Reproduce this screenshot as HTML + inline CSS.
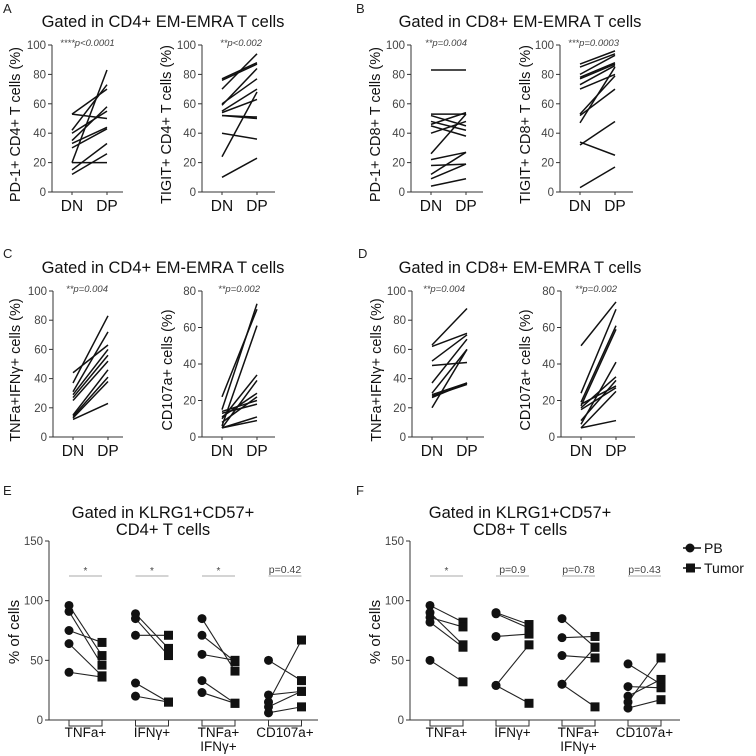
<!DOCTYPE html>
<html><head><meta charset="utf-8">
<style>
body{margin:0;background:#fff;}
svg{display:block;font-family:"Liberation Sans",Arial,sans-serif;}
</style></head>
<body>
<svg id="fig" width="756" height="756" viewBox="0 0 756 756" xmlns="http://www.w3.org/2000/svg">
<g font-size="13" fill="#222">
<text x="3" y="13">A</text>
<text x="356" y="13">B</text>
<text x="3" y="258">C</text>
<text x="358" y="258">D</text>
<text x="3" y="495">E</text>
<text x="356" y="495">F</text>
</g>
<g font-size="16.5" fill="#111" text-anchor="middle">
<text x="163" y="27">Gated in CD4+ EM-EMRA T cells</text>
<text x="520" y="27">Gated in CD8+ EM-EMRA T cells</text>
<text x="163" y="273">Gated in CD4+ EM-EMRA T cells</text>
<text x="520" y="273">Gated in CD8+ EM-EMRA T cells</text>
<text x="163" y="518">Gated in KLRG1+CD57+</text>
<text x="163" y="535">CD4+ T cells</text>
<text x="520" y="518">Gated in KLRG1+CD57+</text>
<text x="520" y="535">CD8+ T cells</text>
</g>
<g id="legend" font-size="14" fill="#111">
<g>
<line x1="683" y1="548" x2="701" y2="548" stroke="#111" stroke-width="1.5"/><circle cx="690" cy="548" r="4.5" fill="#111"/>
<text x="704" y="553">PB</text></g>
<g>
<line x1="683" y1="568" x2="701" y2="568" stroke="#111" stroke-width="1.5"/><rect x="686" y="563.5" width="9" height="9" fill="#111"/>
<text x="704" y="573">Tumor</text></g>
</g>
</svg>
<script>
// ---- DN/DP panel data ----
const aLeftDN=[53,53,42,40,35,33,30,20,20,15,12];
const aLeftDP=[50,70,73,55,58,44,43,20,83,33,26];
const aRightDN=[77,76,70,60,59,55,54,52,52,40,24,10];
const aRightDP=[88,87,94,77,84,70,63,51,50,36,68,23];
const bLeftDN=[83,53,52,48,46,45,40,26,22,18,12,9,4];
const bLeftDP=[83,53,45,42,54,38,48,53,27,19,27,19,9];
const bRightDN=[87,85,80,78,77,73,70,53,52,47,34,32,3];
const bRightDP=[96,94,93,88,87,86,80,79,70,85,25,48,17];
const cLeftDN=[44,37,31,29,27,25,15,14,13,12];
const cLeftDP=[63,83,72,60,56,52,46,41,38,23];
const cRightDN=[22,15,14,13,11,10,8,6,5,5,5];
const cRightDP=[70,73,20,18,24,34,22,61,31,11,9];
const dLeftDN=[63,62,52,49,37,30,29,28,27,20];
const dLeftDP=[88,71,70,51,67,60,37,36,37,60];
const dRightDN=[50,24,19,18,17,16,15,9,7,5,5];
const dRightDP=[74,70,61,28,59,33,27,31,41,25,9];
// ---- E/F data ----
const efCategories=["TNFa+","IFNγ+","TNFa+|IFNγ+","CD107a+"];
const ePB=[[96,91,75,64,40],[89,85,71,31,20],[85,71,55,33,23],[50,21,15,11,6]];
const eTumor=[[54,46,65,37,36],[60,54,71,15,15],[41,49,50,14,14],[33,24,67,24,11]];
const eSig=["*","*","*","p=0.42"];
const fPB=[[96,90,86,82,50],[90,89,70,29,29],[85,69,54,30,30],[47,28,20,15,10]];
const fTumor=[[82,63,78,61,32],[80,77,72,63,14],[61,70,52,61,11],[30,27,34,52,17]];
const fSig=["*","p=0.9","p=0.78","p=0.43"];
const dnTicks100=[0,20,40,60,80,100];
const dnTicks80=[0,20,40,60,80];
const efTicks=[0,50,100,150];

const NS="http://www.w3.org/2000/svg";
const svg=document.getElementById('fig');
function mk(tag,attrs,parent){const e=document.createElementNS(NS,tag);for(const k in attrs)e.setAttribute(k,attrs[k]);(parent||svg).appendChild(e);return e;}

function dnPanel(name,ax,xEnd,yTop,yBot,max,ticks,dn,dp,ylabel,labelX,pText,pX){
  const g=mk('g',{});
  
  
  const xDN=ax+20,xDP=ax+55;
  const yS=v=>yBot-(v/max)*(yBot-yTop);
  const axisY=mk('line',{x1:ax,y1:yTop,x2:ax,y2:yBot,stroke:'#333','stroke-width':1},g);
  
  
  const axisX=mk('line',{x1:ax,y1:yBot,x2:xEnd,y2:yBot,stroke:'#333','stroke-width':1},g);
  
  
  ticks.forEach(t=>{
    mk('line',{x1:ax-4,y1:yS(t),x2:ax,y2:yS(t),stroke:'#333'},g);
    const tl=mk('text',{x:ax-6,y:yS(t)+4,'text-anchor':'end','font-size':11.5,fill:'#444'},g);
    tl.textContent=t;
    
    
  });
  [[xDN,'DN'],[xDP,'DP']].forEach(([x,s])=>{
    mk('line',{x1:x,y1:yBot,x2:x,y2:yBot+3,stroke:'#333'},g);
    const t=mk('text',{x:x,y:yBot+19,'text-anchor':'middle','font-size':15.5,fill:'#111'},g);
    t.textContent=s;
    
    
  });
  for(let i=0;i<dn.length;i++){
    const l=mk('line',{x1:xDN,y1:yS(dn[i]),x2:xDP,y2:yS(dp[i]),stroke:'#111','stroke-width':1.5},g);
    
    
  }
  const yl=mk('text',{x:labelX,y:(yTop+yBot)/2+6,'text-anchor':'middle','font-size':14.5,fill:'#111',transform:`rotate(-90 ${labelX} ${(yTop+yBot)/2+6})`},g);
  yl.textContent=ylabel;
  
  
  const pt=mk('text',{x:pX,y:yTop+1,'font-size':9.5,'font-style':'italic',fill:'#444'},g);
  pt.textContent=pText;
  
  
}
dnPanel('panel-a-pd1',52,123,45,192,100,dnTicks100,aLeftDN,aLeftDP,'PD-1+ CD4+ T cells (%)',20,'****p<0.0001',60);
dnPanel('panel-a-tigit',202,275,45,192,100,dnTicks100,aRightDN,aRightDP,'TIGIT+ CD4+ T cells (%)',171,'**p<0.002',220);
dnPanel('panel-b-pd1',411,483,45,192,100,dnTicks100,bLeftDN,bLeftDP,'PD-1+ CD8+ T cells (%)',380,'**p=0.004',425);
dnPanel('panel-b-tigit',560,633,45,192,100,dnTicks100,bRightDN,bRightDP,'TIGIT+ CD8+ T cells (%)',530,'***p=0.0003',568);
dnPanel('panel-c-tnf-ifn',53,123,291,437,100,dnTicks100,cLeftDN,cLeftDP,'TNFa+IFNγ+ cells (%)',20,'**p=0.004',66);
dnPanel('panel-c-cd107a',202,275,291,437,80,dnTicks80,cRightDN,cRightDP,'CD107a+ cells (%)',172,'**p=0.002',218);
dnPanel('panel-d-tnf-ifn',412,484,291,437,100,dnTicks100,dLeftDN,dLeftDP,'TNFa+IFNγ+ cells (%)',381,'**p=0.004',423);
dnPanel('panel-d-cd107a',561,635,291,437,80,dnTicks80,dRightDN,dRightDP,'CD107a+ cells (%)',530,'**p=0.002',575);

function efPanel(name,ax,xEnd,x0,step,pb,tu,sig,labelX){
  const yTop=541,yBot=720,max=150;
  const g=mk('g',{});
  
  
  const yS=v=>yBot-(v/max)*(yBot-yTop);
  const ay=mk('line',{x1:ax,y1:yTop,x2:ax,y2:yBot,stroke:'#333'},g);
  
  
  const axx=mk('line',{x1:ax,y1:yBot,x2:xEnd,y2:yBot,stroke:'#333'},g);
  
  
  efTicks.forEach(t=>{
    mk('line',{x1:ax-4,y1:yS(t),x2:ax,y2:yS(t),stroke:'#333'},g);
    const tl=mk('text',{x:ax-6,y:yS(t)+4,'text-anchor':'end','font-size':11.5,fill:'#444'},g);
    tl.textContent=t;
    
    
  });
  efCategories.forEach((c,ci)=>{
    const xa=x0+ci*step,xb=xa+33;
    mk('path',{d:`M${xa} ${yBot}V${yBot+6}H${xb}V${yBot}`,fill:'none',stroke:'#333'},g);
    const parts=c.split('|');
    parts.forEach((p,pi)=>{
      const t=mk('text',{x:(xa+xb)/2,y:yBot+17+pi*14,'text-anchor':'middle','font-size':13.5,fill:'#111'},g);
      t.textContent=p;
      
      
    });
    const sb=mk('line',{x1:xa,y1:576,x2:xb,y2:576,stroke:'#aaa','stroke-width':1},g);
    
    
    const st=mk('text',{x:(xa+xb)/2,y:sig[ci]==='*'?574:573,'text-anchor':'middle','font-size':sig[ci]==='*'?10:10.5,fill:'#444'},g);
    st.textContent=sig[ci];
    
    
    for(let i=0;i<pb[ci].length;i++){
      const l=mk('line',{x1:xa,y1:yS(pb[ci][i]),x2:xb,y2:yS(tu[ci][i]),stroke:'#222','stroke-width':1.1},g);
      
      
    }
    for(let i=0;i<pb[ci].length;i++){
      const c1=mk('circle',{cx:xa,cy:yS(pb[ci][i]),r:4.5,fill:'#111'},g);
      
      
      const r1=mk('rect',{x:xb-4.5,y:yS(tu[ci][i])-4.5,width:9,height:9,fill:'#111'},g);
      
      
    }
  });
  const yl=mk('text',{x:labelX,y:632,'text-anchor':'middle','font-size':15,fill:'#111',transform:`rotate(-90 ${labelX} 632)`},g);
  yl.textContent='% of cells';
  
  
}
efPanel('panel-e',49,318,69,66.5,ePB,eTumor,eSig,19);
efPanel('panel-f',410,680,430,66,fPB,fTumor,fSig,380);
</script>
</body></html>
